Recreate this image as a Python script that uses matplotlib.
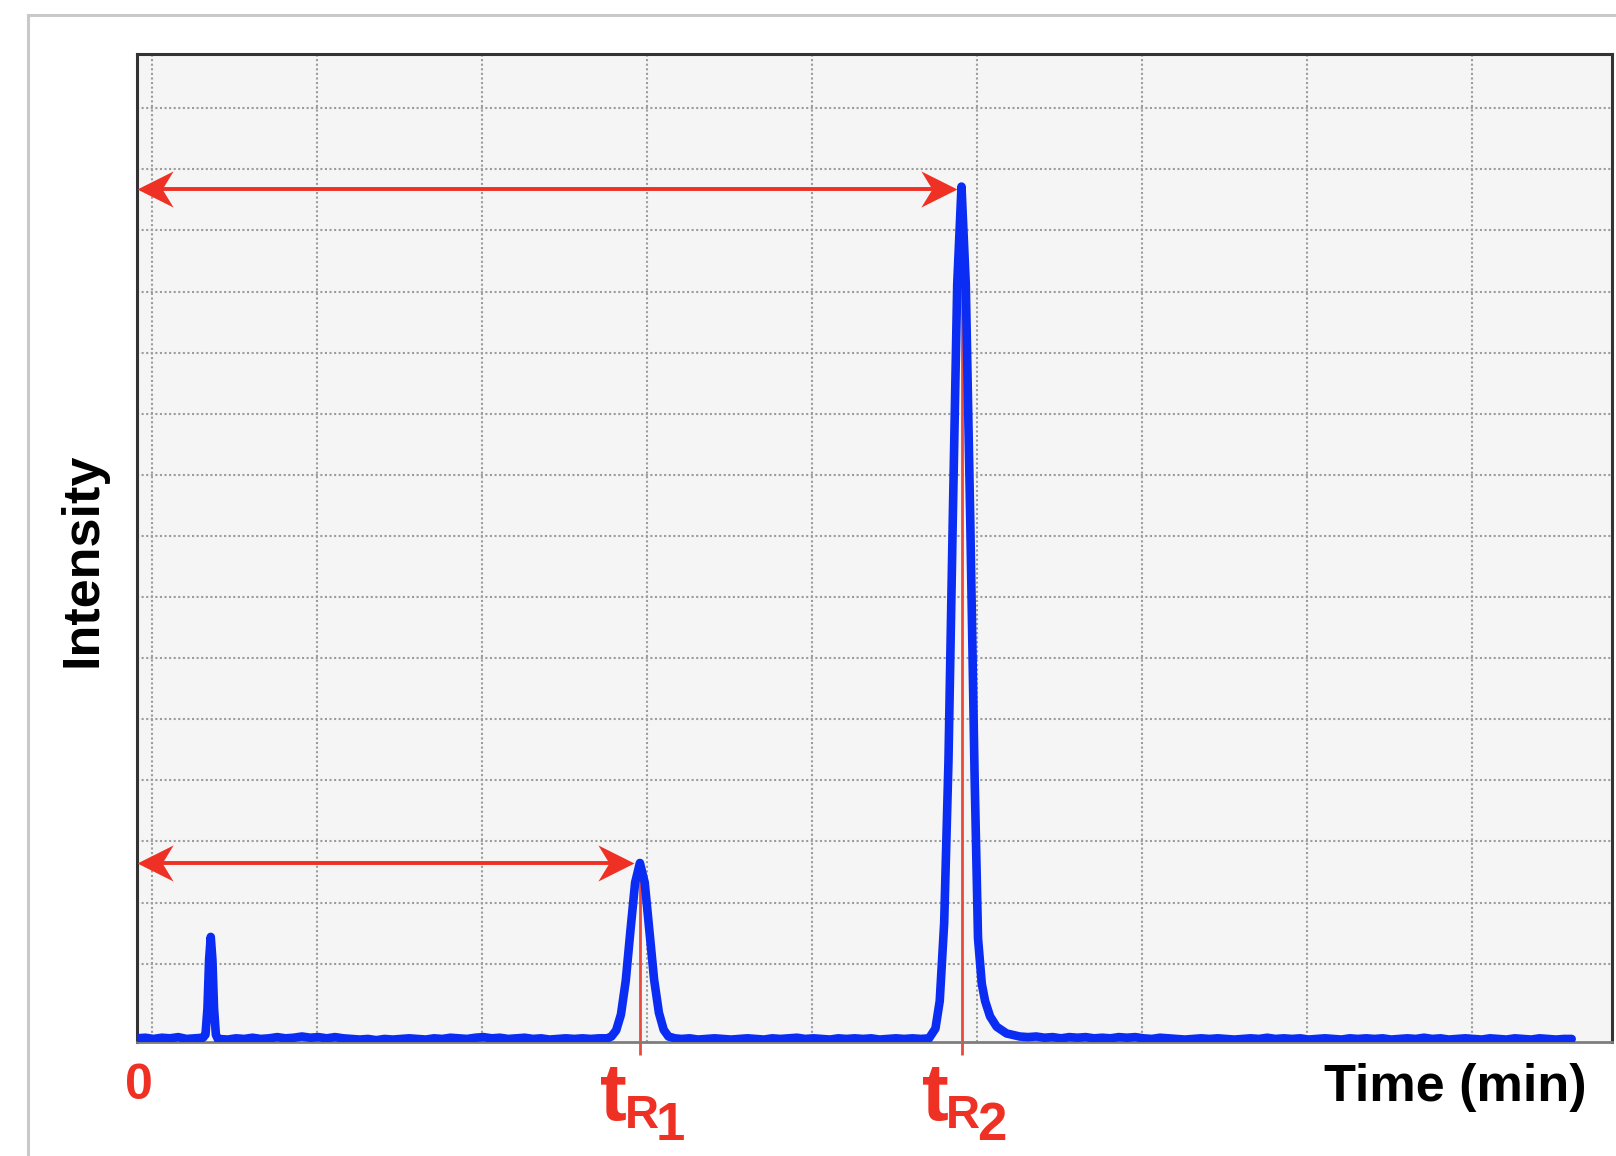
import numpy as np
import matplotlib
matplotlib.use("Agg")
import matplotlib.pyplot as plt
from matplotlib.path import Path
from matplotlib.patches import Rectangle

# -----------------------------
# Chromatogram: retention times tR1 / tR2
# -----------------------------

# trace (time in grid units, intensity in grid units)
time = [
    0.00, 0.05, 0.10, 0.15, 0.20, 0.25, 0.30, 0.35, 0.40,
    0.415, 0.427, 0.437, 0.447, 0.457, 0.467, 0.478,
    0.49, 0.55, 0.60, 0.65, 0.70, 0.75, 0.80, 0.85, 0.90, 0.95,
    1.00, 1.05, 1.10, 1.15, 1.20, 1.25, 1.30, 1.35, 1.40, 1.45,
    1.50, 1.55, 1.60, 1.65, 1.70, 1.75, 1.80, 1.85, 1.90, 1.95,
    2.00, 2.05, 2.10, 2.15, 2.20, 2.25, 2.30, 2.35, 2.40, 2.45,
    2.50, 2.55, 2.60, 2.65, 2.70, 2.75, 2.80, 2.85,
    2.875, 2.904, 2.933, 2.962, 2.990, 3.019, 3.048, 3.077, 3.106,
    3.134, 3.163, 3.192, 3.221,
    3.26, 3.30, 3.35, 3.40, 3.45, 3.50, 3.55, 3.60, 3.65, 3.70,
    3.75, 3.80, 3.85, 3.90, 3.95, 4.00, 4.05, 4.10, 4.15, 4.20,
    4.25, 4.30, 4.35, 4.40, 4.45, 4.50, 4.55, 4.60, 4.65, 4.70,
    4.75, 4.80,
    4.839, 4.865, 4.892, 4.918, 4.944, 4.971, 4.997, 5.023, 5.050,
    5.076, 5.097, 5.12, 5.14, 5.17, 5.21, 5.27, 5.35,
    5.40, 5.45, 5.50, 5.55, 5.60, 5.65, 5.70, 5.75, 5.80, 5.85,
    5.90, 5.95, 6.00, 6.05, 6.10, 6.15, 6.20, 6.25, 6.30, 6.35,
    6.40, 6.45, 6.50, 6.55, 6.60, 6.65, 6.70, 6.75, 6.80, 6.85,
    6.90, 6.95, 7.00, 7.05, 7.10, 7.15, 7.20, 7.25, 7.30, 7.35,
    7.40, 7.45, 7.50, 7.55, 7.60, 7.65, 7.70, 7.75, 7.80, 7.85,
    7.90, 7.95, 8.00, 8.05, 8.10, 8.15, 8.20, 8.25, 8.30, 8.35,
    8.40, 8.45, 8.50, 8.55, 8.60, 8.65, 8.695,
]
intensity = [
    0.06, 0.07, 0.05, 0.07, 0.06, 0.08, 0.05, 0.06, 0.07,
    0.12, 0.55, 1.35, 1.72, 1.35, 0.55, 0.12,
    0.05, 0.04, 0.06, 0.05, 0.07, 0.05, 0.06, 0.08, 0.06, 0.07,
    0.09, 0.07, 0.08, 0.06, 0.08, 0.06, 0.05, 0.04, 0.05, 0.03,
    0.05, 0.04, 0.05, 0.06, 0.05, 0.04, 0.06, 0.05, 0.07, 0.06,
    0.05, 0.07, 0.08, 0.06, 0.07, 0.05, 0.06, 0.07, 0.05, 0.06,
    0.04, 0.05, 0.06, 0.05, 0.06, 0.05, 0.06, 0.06,
    0.09, 0.19, 0.45, 1.00, 1.81, 2.61, 2.93, 2.61, 1.81,
    1.02, 0.48, 0.20, 0.09,
    0.06, 0.05, 0.06, 0.04, 0.05, 0.06, 0.05, 0.04, 0.05, 0.06,
    0.05, 0.04, 0.06, 0.05, 0.06, 0.07, 0.05, 0.06, 0.05, 0.04,
    0.06, 0.05, 0.06, 0.05, 0.06, 0.04, 0.05, 0.06, 0.05, 0.06,
    0.05, 0.06,
    0.22, 0.67, 1.95, 4.60, 8.54, 12.40, 14.00, 12.40, 8.54,
    4.40, 1.70, 0.95, 0.67, 0.42, 0.25, 0.14, 0.09,
    0.08, 0.09, 0.07, 0.08, 0.06, 0.08, 0.07, 0.08, 0.06, 0.07,
    0.06, 0.08, 0.07, 0.08, 0.06, 0.05, 0.07, 0.06, 0.05, 0.04,
    0.05, 0.06, 0.05, 0.06, 0.05, 0.04, 0.05, 0.06, 0.05, 0.07,
    0.05, 0.06, 0.05, 0.06, 0.04, 0.05, 0.06, 0.05, 0.04, 0.06,
    0.05, 0.06, 0.05, 0.06, 0.04, 0.05, 0.06, 0.05, 0.07, 0.05,
    0.06, 0.04, 0.05, 0.06, 0.05, 0.04, 0.06, 0.05, 0.04, 0.06,
    0.05, 0.04, 0.06, 0.05, 0.04, 0.05, 0.05,
]

# retention times and the peak heights they point at
peak_labels = ["1", "2"]
peak_time = [3.048, 4.997]
peak_height = [2.93, 14.00]
arrow_end = [3.012, 4.972]
arrow_y = [2.93, 13.96]

# grid positions
grid_x = [0.088 + k for k in range(9)]
grid_y = [1.283 + k for k in range(15)]

BLUE = "#0b2cf2"
RED = "#ee3124"
RED_LINE = "#ea4a3c"

plt.rcParams["font.family"] = ["Liberation Sans", "DejaVu Sans"]

fig = plt.figure(figsize=(16.16, 11.56), dpi=100)
ax = fig.add_axes([137 / 1616, 1 - 1042 / 1156, 1475 / 1616, 988 / 1156])
ax.set_facecolor("#f5f5f5")
ax.set_xlim(0, 1475 / 165)
ax.set_ylim(0, 988 / 61.1)

ax.set_xticks(grid_x)
ax.set_yticks(grid_y)
ax.set_xticklabels([])
ax.set_yticklabels([])
ax.tick_params(length=0)
ax.grid(True, color="#9c9c9c", linestyle=(0, (1, 1.2)), linewidth=1.5, zorder=0)
ax.set_axisbelow(True)

for side in ["left", "top", "right"]:
    ax.spines[side].set_color("#333333")
    ax.spines[side].set_linewidth(2.2)
ax.spines["bottom"].set_color("#7d7d7d")
ax.spines["bottom"].set_linewidth(2.0)

# retention-time markers
for tr, h in zip(peak_time, peak_height):
    ax.plot([tr, tr], [-0.21, h - 0.1], color=RED_LINE, lw=2.0,
            solid_capstyle="butt", clip_on=False, zorder=2)

# chromatogram
ax.plot(time, intensity, color=BLUE, lw=6.2, solid_joinstyle="round",
        solid_capstyle="round", zorder=3)

# double arrows from t=0 to each peak
head_l = Path([(0, 0), (36, 18), (25, 0), (36, -18), (0, 0)],
              [Path.MOVETO, Path.LINETO, Path.LINETO, Path.LINETO, Path.CLOSEPOLY])
head_r = Path([(0, 0), (-36, 18), (-25, 0), (-36, -18), (0, 0)],
              [Path.MOVETO, Path.LINETO, Path.LINETO, Path.LINETO, Path.CLOSEPOLY])
for xe, ya in zip(arrow_end, arrow_y):
    ax.plot([0.05, xe - 0.05], [ya, ya], color=RED, lw=2.8, zorder=4,
            solid_capstyle="butt", clip_on=False)
    ax.plot([0], [ya], marker=head_l, ms=52, color=RED, mew=0, zorder=4,
            clip_on=False)
    ax.plot([xe], [ya], marker=head_r, ms=52, color=RED, mew=0, zorder=4,
            clip_on=False)

narrow = ["Liberation Sans Narrow", "Liberation Sans", "DejaVu Sans"]

# t_R labels under the axis
for lab, tr in zip(peak_labels, peak_time):
    ax.annotate("t", xy=(tr, 0), xycoords=("data", "axes fraction"),
                xytext=(-19, -56), textcoords="offset points",
                ha="center", va="baseline", fontsize=58, fontweight="bold",
                color=RED, family=narrow, annotation_clip=False)
    ax.annotate("R", xy=(tr, 0), xycoords=("data", "axes fraction"),
                xytext=(1.2, -62), textcoords="offset points",
                ha="center", va="baseline", fontsize=34, fontweight="bold",
                color=RED, family=narrow, annotation_clip=False)
    ax.annotate(lab, xy=(tr, 0), xycoords=("data", "axes fraction"),
                xytext=(21.8, -70.5), textcoords="offset points",
                ha="center", va="baseline", fontsize=38, fontweight="bold",
                color=RED, family=narrow, annotation_clip=False)

ax.annotate("0", xy=(0, 0), xycoords=("data", "axes fraction"),
            xytext=(1, -41), textcoords="offset points",
            ha="center", va="baseline", fontsize=36, fontweight="bold",
            color=RED, family=narrow, annotation_clip=False)

fig.text(1587 / 1616, 1 - 1101 / 1156, "Time (min)", ha="right", va="baseline",
         fontsize=37.5, fontweight="bold", color="black")
fig.text(83 / 1616, 1 - 560 / 1156, "Intensity", rotation=90, ha="center",
         va="center", fontsize=37.5, fontweight="bold", color="black")

# light outer frame (runs off the right and bottom edges)
fig.add_artist(Rectangle((28 / 1616, -0.05), 1.1, 1.05 - 15 / 1156,
                         transform=fig.transFigure, fill=False,
                         edgecolor="#c9c9c9", lw=2.2, clip_on=False))

fig.savefig("out.png", dpi=100, facecolor="white")
